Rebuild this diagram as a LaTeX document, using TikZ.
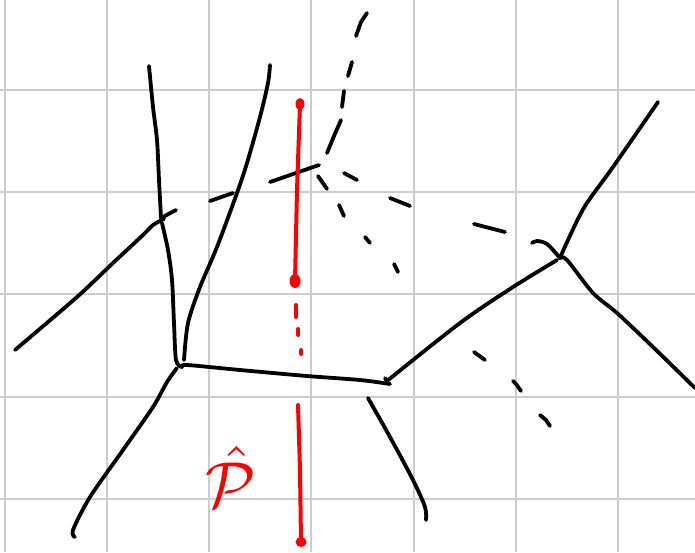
\documentclass[tikz,border=0pt]{standalone}
\usetikzlibrary{calc}
\begin{document}
\begin{tikzpicture}[x=1pt,y=-1pt,
  gridline/.style={draw=black!20,line width=2pt},
  edge/.style={draw=black,line width=3.8pt,line cap=round,line join=round},
  dashstroke/.style={draw=black,line width=3.8pt,line cap=round},
  redline/.style={draw=red,line width=4pt,line cap=round},
  redblob/.style={fill=red}]
\useasboundingbox (0,0) rectangle (695,552);
\fill[white] (0,0) rectangle (695,552);
% grid
\foreach \i in {0,...,6} {\draw[gridline] ({4.5+102.25*\i},0) -- ({4.5+102.25*\i},552);}
\foreach \j in {1,...,5} {\draw[gridline] (0,{-12.2+102.2*\j}) -- (695,{-12.2+102.2*\j});}
% junctions
\coordinate (A) at (161,218);
\coordinate (B) at (182,367);
\coordinate (C) at (387,381);
\coordinate (D) at (560,258);
\coordinate (E) at (319,165);
% solid edges
\draw[edge] plot[smooth,tension=0.5] coordinates {(149,66) (153,107) (157,140) (159,180) (A)};
\draw[edge] (A) -- (176,210);
\draw[edge] plot[smooth,tension=0.5] coordinates {(164,219) (153,225) (143,235) (113,263) (77,297) (15,350)};
\draw[edge] plot[smooth,tension=0.5] coordinates {(162,223) (168,250) (172,280) (174,323) (176,360) (B)};
\draw[edge] plot[smooth,tension=0.5] coordinates {(270,65) (268,83) (260,117) (247,163) (237,193) (217,247) (200,287) (188,323) (184,360)};
\draw[edge] plot[smooth,tension=0.5] coordinates {(B) (187,365) (240,370) (307,376) (360,380) (390,384)};
\draw[edge] plot[smooth,tension=0.5] coordinates {(177,368) (167,382) (153,407) (123,450) (90,497) (73,530) (75,537)};
\draw[edge] plot[smooth,tension=0.5] coordinates {(385,378) (C)};
\draw[edge] plot[smooth,tension=0.5] coordinates {(C) (460,323) (513,287) (557,260)};
\draw[edge] plot[smooth,tension=0.5] coordinates {(532,243) (537,241) (547,244) (D)};
\draw[edge] plot[smooth,tension=0.5] coordinates {(D) (568,240) (585,206) (613,167) (658,102)};
\draw[edge] plot[smooth,tension=0.5] coordinates {(D) (567,260) (593,293) (617,313) (653,347) (695,388)};
\draw[edge] plot[smooth,tension=0.5] coordinates {(368,398) (390,437) (413,480) (425,507) (426,520)};
\draw[edge] (E) -- (270,182);
% dashed strokes
\draw[dashstroke] (367,13) -- (361,22) -- (356,36);
\draw[dashstroke] (352,62) -- (348,76);
\draw[dashstroke] (344,91) -- (342,107);
\draw[dashstroke] (341,120) -- (334,136) -- (327,153);
\draw[dashstroke] (233,193) -- (210,201);
\draw[dashstroke] (318,176) -- (327,189);
\draw[dashstroke] (339,205) -- (344,216);
\draw[dashstroke] (365,237) -- (370,243);
\draw[dashstroke] (394,264) -- (398,272);
\draw[dashstroke] (344,173) -- (357,180);
\draw[dashstroke] (390,198) -- (410,206);
\draw[dashstroke] (474,224) -- (505,232);
\draw[dashstroke] (474,352) -- (485,360);
\draw[dashstroke] (513,381) -- (516,384) -- (521,391);
\draw[dashstroke] (540,415) -- (546,420) -- (550,426);
% red
\coordinate (R1) at (300,104);
\coordinate (R2) at (295,281);
\coordinate (R3) at (301,542);
\coordinate (R4) at (298,405);
\draw[redline] (R1) -- (297,190) -- (R2);
\fill[redblob] (R1) ellipse (4.5 and 6);
\fill[redblob] (R2) ellipse (5.5 and 7);
\draw[redline] (296,305) -- (296,317);
\draw[redline] (298,329) -- (298,335);
\draw[redline] (301,350) -- (301,354);
\draw[redline] (R4) -- (300,470) -- (R3);
\fill[redblob] (R3) ellipse (5.5 and 5);
\node[text=red,inner sep=0pt,scale=6.5] (lbl) at (231,477) {$\hat{\mathcal{P}}$};
\end{tikzpicture}
\end{document}
